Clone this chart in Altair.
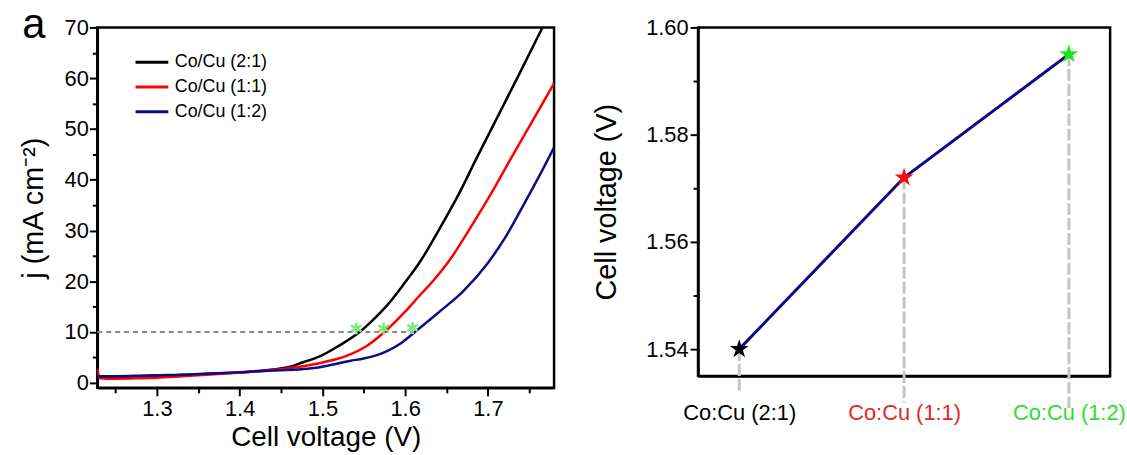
import altair as alt
import pandas as pd

FONT = "Liberation Sans, Arial, sans-serif"

# ---------------- left panel: polarization curves ----------------
series_names = ["Co/Cu (2:1)", "Co/Cu (1:1)", "Co/Cu (1:2)"]
series_colors = ["#000000", "#ff0000", "#0c0c86"]

v_21 = [1.228, 1.24, 1.26, 1.28, 1.30, 1.32, 1.35, 1.38, 1.40, 1.42, 1.44, 1.46,
        1.476, 1.498, 1.520, 1.545, 1.56, 1.58, 1.60, 1.617, 1.647, 1.665, 1.685,
        1.708, 1.737, 1.766]
j_21 = [1.3, 1.0, 1.1, 1.3, 1.4, 1.5, 1.7, 1.9, 2.0, 2.3, 2.6, 3.1,
        4.0, 5.3, 7.3, 10.0, 12.2, 15.6, 19.8, 23.6, 31.9, 37.2, 43.8,
        51.2, 60.5, 70.0]

v_11 = [1.228, 1.231, 1.25, 1.28, 1.30, 1.33, 1.36, 1.40, 1.44, 1.47, 1.50, 1.529,
        1.554, 1.575, 1.60, 1.617, 1.635, 1.653, 1.684, 1.703, 1.73, 1.755, 1.78]
j_11 = [2.8, 0.9, 0.8, 0.9, 1.0, 1.3, 1.6, 2.0, 2.5, 3.1, 4.0, 5.3,
        7.3, 10.0, 14.0, 17.1, 20.3, 24.0, 31.9, 37.0, 44.8, 51.9, 59.0]

v_12 = [1.228, 1.25, 1.28, 1.30, 1.33, 1.36, 1.40, 1.44, 1.47, 1.49, 1.51, 1.533,
        1.55, 1.565, 1.58, 1.595, 1.611, 1.64, 1.67, 1.70, 1.722, 1.745, 1.762, 1.78]
j_12 = [1.3, 1.3, 1.4, 1.5, 1.6, 1.8, 2.1, 2.4, 2.6, 2.9, 3.5, 4.3,
        4.8, 5.4, 6.4, 7.8, 9.9, 13.8, 18.0, 23.6, 28.9, 35.6, 40.7, 46.4]

ref_level = [10.0]
ref_start = [1.228]
ref_end = [1.61]

star_v = [1.541, 1.574, 1.609]
star_j = [10.7, 10.7, 10.8]

x_domain = [1.228, 1.78]
y_domain = [-1, 70]
x_ticks = [1.25, 1.30, 1.35, 1.40, 1.45, 1.50, 1.55, 1.60, 1.65, 1.70, 1.75]
y_ticks = [0, 5, 10, 15, 20, 25, 30, 35, 40, 45, 50, 55, 60, 65, 70]

panel_letter = ["a"]

# ---------------- right panel: voltage at 10 mA cm-2 ----------------
ratio_labels = ["Co:Cu (2:1)", "Co:Cu (1:1)", "Co:Cu (1:2)"]
ratio_voltage = [1.540, 1.572, 1.595]
ratio_colors = ["#000000", "#ff0a0a", "#1ee61e"]
drop_bottom = [1.5317, 1.5301, 1.5290]
y2_domain = [1.535, 1.60]
y2_ticks = [1.54, 1.55, 1.56, 1.57, 1.58, 1.59, 1.60]

# ---------------- tables ----------------
rows = []
for name, vs, js in zip(series_names, [v_21, v_11, v_12], [j_21, j_11, j_12]):
    for i, (v, j) in enumerate(zip(vs, js)):
        rows.append({"series": name, "V": v, "j": j, "idx": i})
curves = pd.DataFrame(rows)
ref_df = pd.DataFrame({"V": ref_start, "V2": ref_end, "j": ref_level})
stars_df = pd.DataFrame({"V": star_v, "j": star_j})
letter_df = pd.DataFrame({"t": panel_letter})
ratio_df = pd.DataFrame({"ratio": ratio_labels, "voltage": ratio_voltage,
                         "bottom": drop_bottom})

asterisk = "M0,-1L0,1M-0.866,-0.5L0.866,0.5M-0.866,0.5L0.866,-0.5"
star = ("M0,-1L0.2245,-0.309L0.951,-0.309L0.363,0.118L0.588,0.809L0,0.382"
        "L-0.588,0.809L-0.363,0.118L-0.951,-0.309L-0.2245,-0.309Z")
legend_stroke = "M-3,0H3"

x_enc = alt.X(
    "V:Q",
    scale=alt.Scale(domain=x_domain, nice=False, zero=False),
    axis=alt.Axis(
        title="Cell voltage (V)", values=x_ticks,
        labelExpr="round(datum.value*100) % 10 == 0 ? format(datum.value, '.1f') : ''",
        tickSize={"condition": {"test": "round(datum.value*100) % 10 != 0", "value": 5}, "value": 8},
        labelPadding=3, titlePadding=4, labelFontSize=22, titleFontSize=28,
    ),
)
y_enc = alt.Y(
    "j:Q",
    scale=alt.Scale(domain=y_domain, nice=False, zero=False),
    axis=alt.Axis(
        title="j (mA cm⁻²)", values=y_ticks,
        labelExpr="datum.value % 10 == 0 ? datum.value : ''",
        tickSize={"condition": {"test": "datum.value % 10 != 0", "value": 5}, "value": 8},
        labelPadding=1, titlePadding=16, labelFontSize=22, titleFontSize=29,
    ),
)

ref_rule = alt.Chart(ref_df).mark_rule(
    color="#888888", strokeWidth=2, strokeDash=[5, 4]
).encode(x=x_enc, x2="V2:Q", y=y_enc)

lines = alt.Chart(curves).mark_line(strokeWidth=2.5, clip=True, interpolate="monotone").encode(
    x=x_enc, y=y_enc,
    color=alt.Color(
        "series:N",
        scale=alt.Scale(domain=series_names, range=series_colors),
        legend=alt.Legend(
            title=None, orient="none", legendX=46, legendY=26,
            symbolType=legend_stroke, symbolStrokeWidth=3, symbolSize=121,
            labelFontSize=18, labelFont=FONT, rowPadding=7, labelOffset=14,
            padding=0,
        ),
    ),
    order="idx:Q",
)

stars_left = alt.Chart(stars_df).mark_point(
    shape=asterisk, filled=False, color="#7de87d", strokeWidth=2.5, size=150, opacity=1
).encode(x=x_enc, y=y_enc)

letter = alt.Chart(letter_df).mark_text(
    fontSize=42, font=FONT, align="center", baseline="middle"
).encode(text="t:N", x=alt.value(-64), y=alt.value(-2))

left = alt.layer(ref_rule, lines, stars_left, letter).properties(width=460, height=363)

rx_enc = alt.X(
    "ratio:N", sort=ratio_labels,
    scale=alt.Scale(type="point", padding=0.25),
    axis=alt.Axis(
        title=None, ticks=False, labelAngle=0, labelPadding=27, labelFontSize=22,
        labelColor={"condition": [
            {"test": "datum.value === 'Co:Cu (1:1)'", "value": "#e3262b"},
            {"test": "datum.value === 'Co:Cu (1:2)'", "value": "#2fdc2f"},
        ], "value": "#000000"},
    ),
)
ry_enc = alt.Y(
    "voltage:Q",
    scale=alt.Scale(domain=y2_domain, nice=False, zero=False),
    axis=alt.Axis(
        title="Cell voltage (V)", values=y2_ticks,
        labelExpr="round(datum.value*100) % 2 == 0 ? format(datum.value, '.2f') : ''",
        tickSize={"condition": {"test": "round(datum.value*100) % 2 != 0", "value": 5}, "value": 8},
        labelPadding=2, titlePadding=24, labelFontSize=22, titleFontSize=29,
    ),
)

drops = alt.Chart(ratio_df).mark_rule(
    color="#c4c4c4", strokeWidth=3, strokeDash=[12, 3]
).encode(x=rx_enc, y=ry_enc, y2="bottom:Q")

navy = alt.Chart(ratio_df).mark_line(color="#0a0a82", strokeWidth=3).encode(
    x=rx_enc, y=ry_enc
)

stars_right = alt.Chart(ratio_df).mark_point(
    shape=star, filled=True, size=400, opacity=1
).encode(
    x=rx_enc, y=ry_enc,
    color=alt.Color("ratio:N", scale=alt.Scale(domain=ratio_labels, range=ratio_colors),
                    legend=None),
)

right = alt.layer(drops, navy, stars_right).properties(width=415, height=351)

chart = (
    alt.hconcat(left, right, spacing=35)
    .resolve_scale(color="independent")
    .properties(padding={"left": 18, "top": 1, "right": 0, "bottom": 0})
    .configure_view(stroke="#000000", strokeWidth=2.5)
    .configure_axis(
        grid=False, domainColor="#000000", domainWidth=2.5,
        tickColor="#000000", tickWidth=2, labelColor="#000000",
        labelFont=FONT, titleFont=FONT, titleFontWeight="normal",
        titleColor="#000000",
    )
)

chart.save("out.html", embed_options={"renderer": "svg", "actions": False})
